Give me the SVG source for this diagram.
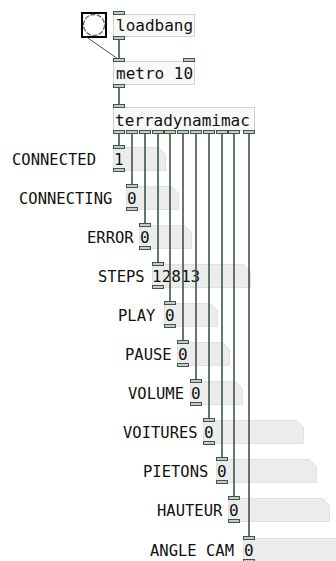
<svg xmlns="http://www.w3.org/2000/svg" width="336" height="561" viewBox="0 0 336 561">
<style>
.obj{fill:#f9f9f9;stroke:#d2d2d2;stroke-width:1}
.io{fill:#c3cbc3;stroke:#3e5646;stroke-width:1}
.num{fill:#ececec;stroke:#e0e0e0;stroke-width:1}
.t{font-family:"DejaVu Sans Mono","Liberation Mono",monospace;font-size:16px;fill:#111}
.lb{font-family:"DejaVu Sans Mono","Liberation Mono",monospace;font-size:15.5px;fill:#111}
.cn{stroke:#3e5646;stroke-width:1.6;fill:none}
.cm{stroke:#3e5646;stroke-width:1;fill:none}
</style>
<rect width="336" height="561" fill="#ffffff"/>
<g id="bang">
<rect x="82" y="13" width="24" height="24" fill="#ffffff" stroke="#000" stroke-width="2"/>
<circle cx="94" cy="25" r="10.5" fill="none" stroke="#666" stroke-width="1.3" stroke-dasharray="5 1.5"/>
</g>
<g id="loadbang">
<rect class="obj" x="113.5" y="14.5" width="81" height="22"/>
<rect class="io" x="113.5" y="11.5" width="11" height="3"/>
<rect class="io" x="113.5" y="36.5" width="11" height="3"/>
<text class="t" x="116" y="31">loadbang</text>
</g>
<g id="metro">
<rect class="obj" x="113.5" y="61.5" width="81" height="23"/>
<rect class="io" x="113.5" y="58.5" width="11" height="3"/>
<rect class="io" x="183.5" y="58.5" width="11" height="3"/>
<rect class="io" x="113.5" y="84.5" width="11" height="3"/>
<text class="t" x="116" y="79">metro 10</text>
</g>
<g id="terradynamimac">
<rect class="obj" x="113.5" y="107.5" width="141" height="23"/>
<rect class="io" x="113.5" y="104.5" width="11" height="3"/>
<rect class="io" x="113.5" y="130.5" width="11" height="3"/>
<rect class="io" x="126.5" y="130.5" width="11" height="3"/>
<rect class="io" x="139.5" y="130.5" width="11" height="3"/>
<rect class="io" x="152.5" y="130.5" width="11" height="3"/>
<rect class="io" x="164.5" y="130.5" width="11" height="3"/>
<rect class="io" x="177.5" y="130.5" width="11" height="3"/>
<rect class="io" x="190.5" y="130.5" width="11" height="3"/>
<rect class="io" x="203.5" y="130.5" width="11" height="3"/>
<rect class="io" x="216.5" y="130.5" width="11" height="3"/>
<rect class="io" x="228.5" y="130.5" width="11" height="3"/>
<rect class="io" x="243.5" y="130.5" width="11" height="3"/>
<text class="t" x="115" y="126">terradynamimac</text>
</g>
<g id="connected">
<polygon class="num" points="113.5,147.5 158.5,147.5 165.5,154.5 165.5,170.5 113.5,170.5"/>
<rect class="io" x="113.5" y="145.5" width="11" height="3"/>
<rect class="io" x="113.5" y="168.5" width="11" height="3"/>
<text class="t" x="114" y="165">1</text>
<text class="lb" x="12" y="165">CONNECTED</text>
</g>
<g id="connecting">
<polygon class="num" points="126.5,186.5 171.5,186.5 178.5,193.5 178.5,209.5 126.5,209.5"/>
<rect class="io" x="126.5" y="184.5" width="11" height="3"/>
<rect class="io" x="126.5" y="207.5" width="11" height="3"/>
<text class="t" x="127" y="204">0</text>
<text class="lb" x="19" y="204">CONNECTING</text>
</g>
<g id="error">
<polygon class="num" points="139.5,225.5 184.5,225.5 191.5,232.5 191.5,248.5 139.5,248.5"/>
<rect class="io" x="139.5" y="223.5" width="11" height="3"/>
<rect class="io" x="139.5" y="246.5" width="11" height="3"/>
<text class="t" x="140" y="243">0</text>
<text class="lb" x="87" y="243">ERROR</text>
</g>
<g id="steps">
<polygon class="num" points="152.5,264.5 243.5,264.5 250.5,271.5 250.5,287.5 152.5,287.5"/>
<rect class="io" x="152.5" y="262.5" width="11" height="3"/>
<rect class="io" x="152.5" y="285.5" width="11" height="3"/>
<text class="t" x="152" y="282">12813</text>
<text class="lb" x="98" y="282">STEPS</text>
</g>
<g id="play">
<polygon class="num" points="164.5,303.5 210.5,303.5 217.5,310.5 217.5,326.5 164.5,326.5"/>
<rect class="io" x="164.5" y="301.5" width="11" height="3"/>
<rect class="io" x="164.5" y="324.5" width="11" height="3"/>
<text class="t" x="165" y="321">0</text>
<text class="lb" x="118" y="321">PLAY</text>
</g>
<g id="pause">
<polygon class="num" points="177.5,342.5 222.5,342.5 229.5,349.5 229.5,365.5 177.5,365.5"/>
<rect class="io" x="177.5" y="340.5" width="11" height="3"/>
<rect class="io" x="177.5" y="363.5" width="11" height="3"/>
<text class="t" x="178" y="360">0</text>
<text class="lb" x="125" y="360">PAUSE</text>
</g>
<g id="volume">
<polygon class="num" points="190.5,381.5 235.5,381.5 242.5,388.5 242.5,404.5 190.5,404.5"/>
<rect class="io" x="190.5" y="379.5" width="11" height="3"/>
<rect class="io" x="190.5" y="402.5" width="11" height="3"/>
<text class="t" x="191" y="399">0</text>
<text class="lb" x="128" y="399">VOLUME</text>
</g>
<g id="voitures">
<polygon class="num" points="203.5,420.5 296.5,420.5 303.5,427.5 303.5,443.5 203.5,443.5"/>
<rect class="io" x="203.5" y="418.5" width="11" height="3"/>
<rect class="io" x="203.5" y="441.5" width="11" height="3"/>
<text class="t" x="204" y="438">0</text>
<text class="lb" x="123" y="438">VOITURES</text>
</g>
<g id="pietons">
<polygon class="num" points="216.5,459.5 309.5,459.5 316.5,466.5 316.5,482.5 216.5,482.5"/>
<rect class="io" x="216.5" y="457.5" width="11" height="3"/>
<rect class="io" x="216.5" y="480.5" width="11" height="3"/>
<text class="t" x="217" y="477">0</text>
<text class="lb" x="143" y="477">PIETONS</text>
</g>
<g id="hauteur">
<polygon class="num" points="228.5,498.5 322.5,498.5 329.5,505.5 329.5,521.5 228.5,521.5"/>
<rect class="io" x="228.5" y="496.5" width="11" height="3"/>
<rect class="io" x="228.5" y="519.5" width="11" height="3"/>
<text class="t" x="229" y="516">0</text>
<text class="lb" x="157" y="516">HAUTEUR</text>
</g>
<g id="anglecam">
<polygon class="num" points="243.5,538.5 336.5,538.5 343.5,545.5 343.5,561.5 243.5,561.5"/>
<rect class="io" x="243.5" y="536.5" width="11" height="3"/>
<rect class="io" x="243.5" y="559.5" width="11" height="3"/>
<text class="t" x="244" y="556">0</text>
<text class="lb" x="150" y="556">ANGLE CAM</text>
</g>
<g id="connectors">
<line class="cm" x1="85" y1="36" x2="118" y2="59"/>
<line class="cn" x1="119" y1="39.5" x2="119" y2="58.5"/>
<line class="cn" x1="119" y1="87.5" x2="119" y2="104.5"/>
<line class="cn" x1="119" y1="133.5" x2="119" y2="145.5"/>
<line class="cn" x1="132" y1="133.5" x2="132" y2="184.5"/>
<line class="cn" x1="145" y1="133.5" x2="145" y2="223.5"/>
<line class="cn" x1="158" y1="133.5" x2="158" y2="262.5"/>
<line class="cn" x1="170" y1="133.5" x2="170" y2="301.5"/>
<line class="cn" x1="183" y1="133.5" x2="183" y2="340.5"/>
<line class="cn" x1="196" y1="133.5" x2="196" y2="379.5"/>
<line class="cn" x1="209" y1="133.5" x2="209" y2="418.5"/>
<line class="cn" x1="222" y1="133.5" x2="222" y2="457.5"/>
<line class="cn" x1="234" y1="133.5" x2="234" y2="496.5"/>
<line class="cn" x1="249" y1="133.5" x2="249" y2="536.5"/>
</g>
</svg>
